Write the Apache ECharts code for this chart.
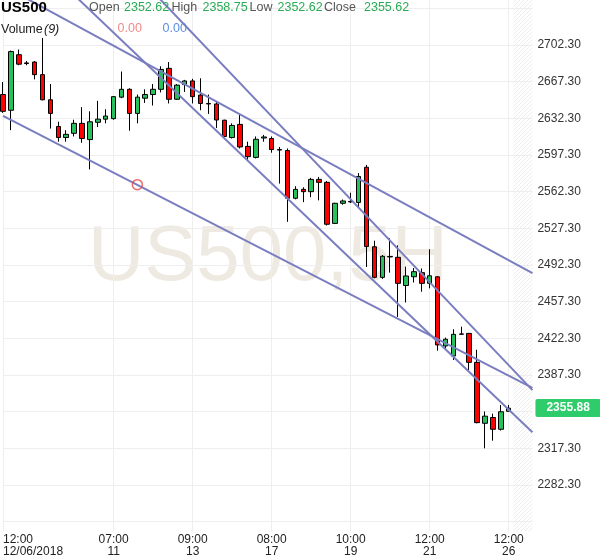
<!DOCTYPE html>
<html><head><meta charset="utf-8">
<script src="https://cdn.jsdelivr.net/npm/echarts@6/dist/echarts.min.js"></script>
<style>html,body{margin:0;padding:0;background:#fff}#c{width:600px;height:558px}</style>
</head><body><div id="c"></div>
<script>
// ---- data ----
const symbolName = 'US500';
const timeframe = '5H';
const openP  = [2655,2640,2693,2685.2,2686,2674,2650,2624.5,2614,2618,2627.5,2612,2628.5,2631.5,2632,2652.5,2660,2637,2651.5,2655,2660,2680,2650.5,2664.5,2668,2654.5,2646.5,2646,2630.5,2614,2626.5,2605.5,2595,2613.5,2613,2602.5,2601.5,2556,2564.5,2562.3,2574,2571.2,2532,2551.2,2553,2552,2585.6,2509.7,2480.5,2500.5,2499.6,2472.7,2481.1,2485,2474.8,2481,2415,2405.4,2426.5,2427,2399.4,2341.2,2346.7,2335.5,2352.62];
const highP  = [2667,2697,2698,2687,2687,2709,2665,2629,2621,2631,2643,2639,2649,2641,2653.5,2677,2661,2655,2660,2665,2682,2686,2665,2669,2670,2670.5,2655,2648,2631,2627.5,2635.5,2610,2615,2616.5,2615,2605,2603.5,2567.5,2566.5,2575.5,2576.3,2572.5,2551.7,2554.8,2561.3,2580,2587.8,2515.5,2501.8,2517.8,2511,2490.7,2489.4,2489,2507.3,2481.8,2423,2431,2433.4,2427.5,2411.4,2352.5,2350.4,2358.6,2358.75];
const lowP   = [2637.5,2621,2683,2683,2669.5,2649.5,2622.5,2610,2610,2615,2609,2583.5,2624,2627.5,2631,2651.5,2620.5,2627.5,2647,2644.5,2657,2646.5,2650,2657.5,2646.5,2640,2636.5,2623,2614.5,2613,2603.5,2592.5,2594,2610,2599.5,2570,2533.5,2555,2552.3,2557,2554,2530,2531.5,2549.8,2551.5,2546.5,2490.4,2479.6,2479,2485,2442.7,2456.5,2475.6,2466.8,2470,2410.5,2411.2,2401.6,2425.5,2392,2341.2,2317.3,2324.6,2334.3,2352.62];
const closeP = [2639,2696,2684,2684.6,2674,2650,2637,2614,2617,2627.5,2613,2629,2631.5,2634.5,2653,2660,2637,2652.5,2655,2660,2679,2650.5,2664,2668,2653,2646.5,2646,2630.7,2615,2625.5,2605,2595.7,2612.3,2614.5,2602.5,2602,2556,2564.5,2562.3,2574,2571.2,2531.2,2551.2,2553.4,2552.5,2576.8,2510,2480.5,2500.6,2500,2474.8,2481.8,2485.9,2474.8,2482,2416,2421.4,2426.1,2426.2,2399.4,2341.8,2348,2335.5,2352.2,2355.62];
const slotCount = 68;                       // candle slots incl. empty future slots
const labelIndex = [0, 14, 24, 34, 44, 54, 64];
const labelTime  = ['12:00', '07:00', '09:00', '08:00', '10:00', '12:00', '12:00'];
const labelDate  = ['12/06/2018', '11', '13', '17', '19', '21', '26'];
const yTickValues  = [2247.30, 2282.30, 2317.30, 2352.30, 2387.30, 2422.30, 2457.30, 2492.30, 2527.30, 2562.30, 2597.30, 2632.30, 2667.30, 2702.30, 2737.30];
const yLabelValues = [2282.30, 2317.30, 2387.30, 2422.30, 2457.30, 2492.30, 2527.30, 2562.30, 2597.30, 2632.30, 2667.30, 2702.30];
const trendA = [[0, 2758.9], [67, 2484.6]];
const trendB = [[0, 2814.8], [67, 2332.6]];
const trendC = [[0, 2903.4], [67, 2372.9]];
const trendD = [[0, 2634.6], [67, 2375.1]];
const anchorPoint = [[17, 2569.0]];
const lastPrice = 2355.88;
const futureStart = 64.6;
const volumeValues = ['0.00', '0.00'];

// ---- build ----
const categories = [];
for (let i = 0; i < slotCount; i++) {
  const k = labelIndex.indexOf(i);
  categories.push(k >= 0 ? labelTime[k] + '\n' + labelDate[k] : '');
}
const candles = openP.map((o, i) => [o, closeP[i], lowP[i], highP[i]]);
const isLabel = (i) => labelIndex.indexOf(i) >= 0;

const hatch = document.createElement('canvas');
hatch.width = 4; hatch.height = 4;
const hc = hatch.getContext('2d');
hc.strokeStyle = '#ededed'; hc.lineWidth = 1;
hc.beginPath(); hc.moveTo(0, 4); hc.lineTo(4, 0); hc.stroke();
hc.beginPath(); hc.moveTo(-1, 1); hc.lineTo(1, -1); hc.stroke();
hc.beginPath(); hc.moveTo(3, 5); hc.lineTo(5, 3); hc.stroke();

const FONT = '"Liberation Sans", Arial, sans-serif';
const lineColor = '#7a7ec0';
const last = openP.length - 1;
const green = '#2aaa55';
const hdr = [
  ['Open', 89, '#555'], [openP[last].toFixed(2), 124, green],
  ['High', 171.5, '#555'], [highP[last].toFixed(2), 202.5, green],
  ['Low', 249.5, '#555'], [lowP[last].toFixed(2), 277.5, green],
  ['Close', 324, '#555'], [closeP[last].toFixed(2), 364, green]
];
const graphics = [
  { type: 'text', x: 1, y: 7.5, z: 100, style: { text: symbolName, font: 'bold 15px ' + FONT, fill: '#000', verticalAlign: 'middle' } },
  { type: 'text', x: 1, y: 30, z: 100, style: { text: 'Volume ', font: '12.5px ' + FONT, fill: '#222', verticalAlign: 'middle' } },
  { type: 'text', x: 44, y: 30, z: 100, style: { text: '(9)', font: 'italic 12.5px ' + FONT, fill: '#222', verticalAlign: 'middle' } },
  { type: 'text', x: 117.5, y: 29, z: 100, style: { text: volumeValues[0], font: '12.5px ' + FONT, fill: '#f08a8a', verticalAlign: 'middle' } },
  { type: 'text', x: 162.5, y: 29, z: 100, style: { text: volumeValues[1], font: '12.5px ' + FONT, fill: '#5b8de0', verticalAlign: 'middle' } },
  { type: 'text', x: 88, y: 258, z: -10, silent: true, style: { text: symbolName + ',' + timeframe, font: '78px ' + FONT, fill: '#efeae1', verticalAlign: 'middle' } }
];
hdr.forEach(h => graphics.push({ type: 'text', x: h[1], y: 7.5, z: 100, style: { text: h[0], font: '12.5px ' + FONT, fill: h[2], verticalAlign: 'middle' } }));

const lineSeries = (name, data) => ({
  name, type: 'line', xAxisIndex: 1, yAxisIndex: 0, data, symbol: 'none', silent: true,
  clip: true, z: 5, lineStyle: { color: lineColor, width: 2 }, animation: false
});

const chart = echarts.init(document.getElementById('c'), null, { renderer: 'canvas' });
chart.setOption({
  animation: false,
  backgroundColor: '#fff',
  grid: { left: 1.8, right: 67.56, top: 0, bottom: 26.5, containLabel: false },
  xAxis: [{
    type: 'category', data: categories, boundaryGap: false,
    axisLine: { show: false }, axisTick: { show: false },
    axisLabel: { interval: (i) => isLabel(i), alignMinLabel: 'left', margin: 2, color: '#222', fontSize: 12, lineHeight: 12, fontFamily: FONT },
    splitLine: { show: true, interval: (i) => isLabel(i), lineStyle: { color: '#eeeeee', width: 1 } }
  }, {
    type: 'value', min: 0, max: slotCount - 1, show: false
  }],
  yAxis: [{
    type: 'value', position: 'right', min: 2237.9, max: 2745.25, scale: true,
    axisLine: { show: false },
    axisTick: { show: false, customValues: yTickValues },
    axisLabel: { customValues: yLabelValues, formatter: (v) => Number(v).toFixed(2), margin: 5, color: '#333', fontSize: 12, fontFamily: FONT },
    splitLine: { show: true, lineStyle: { color: '#eeeeee', width: 1 } }
  }],
  graphic: graphics,
  series: [
    {
      type: 'candlestick', data: candles, xAxisIndex: 0, yAxisIndex: 0, barWidth: 5, clip: false, z: 3,
      itemStyle: { color: '#27c05a', color0: '#ff0000', borderColor: '#000', borderColor0: '#000', borderColorDoji: '#000', borderWidth: 1 },
      markLine: {
        silent: true, symbol: 'none', animation: false,
        lineStyle: { color: 'rgba(0,0,0,0)', width: 1, type: 'solid' },
        data: [{ yAxis: lastPrice }],
        label: { show: true, position: 'end', distance: 3, formatter: lastPrice.toFixed(2), backgroundColor: '#2ecc6a', color: '#fff', fontWeight: 'bold', fontSize: 12, fontFamily: FONT, padding: [3, 11, 3, 11], borderRadius: 2 }
      }
    },
    Object.assign(lineSeries('A', trendA), {
      markArea: { silent: true, itemStyle: { color: { image: hatch, repeat: 'repeat' } }, data: [[{ xAxis: futureStart }, { xAxis: slotCount - 1 }]] }
    }),
    lineSeries('B', trendB),
    lineSeries('C', trendC),
    lineSeries('D', trendD),
    {
      type: 'scatter', xAxisIndex: 1, yAxisIndex: 0, data: anchorPoint, symbol: 'circle', symbolSize: 10, z: 6, silent: true,
      itemStyle: { color: 'rgba(255,255,255,0)', borderColor: '#ee4444', borderWidth: 1.5 }
    }
  ]
});
</script></body></html>
